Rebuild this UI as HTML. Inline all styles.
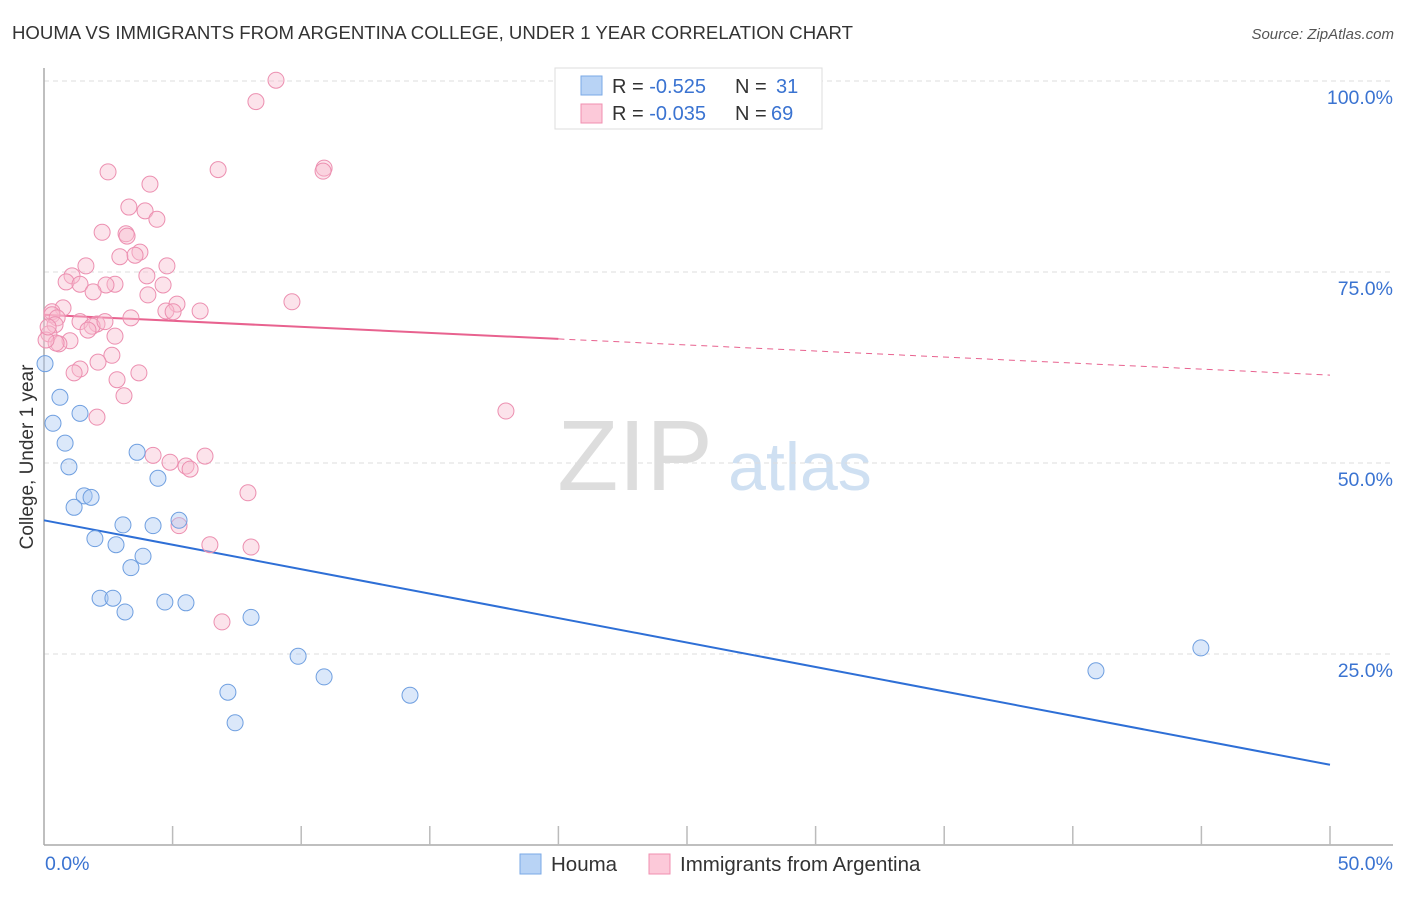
<!DOCTYPE html>
<html><head><meta charset="utf-8"><style>
body{margin:0;background:#fff;font-family:"Liberation Sans",sans-serif;}
svg text{font-family:"Liberation Sans",sans-serif;}
</style></head><body>
<svg id="chart" width="1406" height="892" xmlns="http://www.w3.org/2000/svg">
<text x="12" y="39" font-size="18.6" fill="#333">HOUMA VS IMMIGRANTS FROM ARGENTINA COLLEGE, UNDER 1 YEAR CORRELATION CHART</text>
<text x="1394" y="39" font-size="15" fill="#555" font-style="italic" text-anchor="end">Source: ZipAtlas.com</text>
<text x="33" y="457" font-size="19" fill="#333" text-anchor="middle" transform="rotate(-90 33 457)">College, Under 1 year</text>
<g><text x="635" y="490" font-size="100" fill="#ddd" font-family="Liberation Serif" text-anchor="middle">ZIP</text><text x="800" y="490" font-size="68" fill="#cfe0f2" text-anchor="middle">atlas</text></g>
<g id="grid"></g><g id="axes"></g><g id="lines"></g><g id="pts"></g>
<g>
<rect x="555" y="68" width="267" height="61" fill="#fff" stroke="#ddd"/>
<rect x="581" y="76" width="21" height="19" fill="#b8d3f5" stroke="#7aa8e6"/>
<rect x="581" y="104" width="21" height="19" fill="#fcc9d9" stroke="#f08fb0"/>
<text x="612" y="93" font-size="20" fill="#333">R = <tspan fill="#3a73d1">-0.525</tspan><tspan x="735">N = </tspan><tspan x="776" fill="#3a73d1">31</tspan></text>
<text x="612" y="120" font-size="20" fill="#333">R = <tspan fill="#3a73d1">-0.035</tspan><tspan x="735">N = </tspan><tspan x="771" fill="#3a73d1">69</tspan></text>
</g>
<g>
<rect x="520" y="854" width="21" height="20" fill="#b8d3f5" stroke="#7aa8e6"/>
<text x="551" y="871" font-size="20.5" fill="#333">Houma</text>
<rect x="649" y="854" width="21" height="20" fill="#fcc9d9" stroke="#f08fb0"/>
<text x="680" y="871" font-size="20.5" fill="#333">Immigrants from Argentina</text>
</g>
</svg>
<script>
const houmaX=[0.04,0.35,0.62,1.40,0.82,0.97,3.62,4.43,1.56,1.83,1.17,3.07,4.24,5.25,1.98,2.80,3.85,3.38,2.18,2.68,3.15,4.70,5.52,8.05,9.88,10.89,7.15,7.43,14.23,40.90,44.98];
const houmaY=[63.0,55.2,58.6,56.5,52.6,49.5,51.4,48.0,45.7,45.5,44.2,41.9,41.8,42.5,40.1,39.3,37.8,36.3,32.3,32.3,30.5,31.8,31.7,29.8,24.7,22.0,20.0,16.0,19.6,22.8,25.8];
const argX=[9.02,8.24,10.89,10.85,6.77,2.49,4.12,3.30,3.93,4.39,2.26,3.19,3.23,3.73,2.95,3.54,1.63,4.78,1.09,4.00,0.86,1.40,2.76,2.41,4.63,1.91,4.04,9.64,5.17,0.74,0.31,4.74,6.07,5.02,0.31,0.51,3.38,1.40,2.06,1.87,2.37,0.43,1.71,0.19,2.76,1.01,0.58,0.47,2.64,2.10,1.40,1.17,3.69,2.84,3.11,2.06,17.96,4.24,6.26,4.90,5.52,5.68,7.93,5.25,6.45,8.05,6.92,0.08,0.16];
const argY=[100.1,97.3,88.6,88.2,88.4,88.1,86.5,83.5,83.0,81.9,80.2,80.0,79.7,77.6,77.0,77.2,75.8,75.8,74.5,74.5,73.7,73.4,73.4,73.3,73.3,72.4,72.0,71.1,70.8,70.3,69.8,69.9,69.9,69.8,69.4,69.0,69.0,68.5,68.2,67.9,68.5,68.1,67.4,66.9,66.6,66.0,65.6,65.7,64.1,63.2,62.3,61.8,61.8,60.9,58.8,56.0,56.8,51.0,50.9,50.1,49.6,49.2,46.1,41.8,39.3,39.0,29.2,66.1,67.8];
const yTicks=[25,50,75,100];
const xTickLabels=["0.0%","50.0%"];
const houmaTrend=[42.5,10.5];
const argTrend=[69.4,61.5];
const argSolidEnd=20;
const NS="http://www.w3.org/2000/svg";
const xs=v=>44+v*25.72, ys=v=>845-v*7.64;
function mk(t,a,p){const e=document.createElementNS(NS,t);for(const k in a)e.setAttribute(k,a[k]);document.getElementById(p).appendChild(e);return e;}
yTicks.forEach(t=>{
 const g=mk('line',{x1:44,x2:1393,y1:ys(t),y2:ys(t),stroke:'#ddd','stroke-dasharray':'5,4'},'grid');
 
 
 const l=mk('text',{x:1393,y:ys(t)+23,'font-size':19.5,fill:'#3a73d1','text-anchor':'end'},'grid');
 l.textContent=t.toFixed(1)+'%';
 
 
});
let ax=mk('line',{x1:44,x2:44,y1:68,y2:845,stroke:'#aaa','stroke-width':1.5},'axes');


ax=mk('line',{x1:44,x2:1393,y1:845,y2:845,stroke:'#aaa','stroke-width':1.5},'axes');


for(let i=1;i<=10;i++){const t=mk('line',{x1:xs(i*5),x2:xs(i*5),y1:826,y2:845,stroke:'#bbb','stroke-width':1.5},'axes');
 
 }
[[0,'start'],[50,'end']].forEach((d,i)=>{const t=mk('text',{x:i?1393:45,y:870,'font-size':19.5,fill:'#3a73d1','text-anchor':d[1]},'axes');t.textContent=xTickLabels[i];
 
 });
function pts(X,Y,fill,stroke,name){X.forEach((x,i)=>{const c=mk('circle',{cx:xs(x),cy:ys(Y[i]),r:8,fill:fill,'fill-opacity':0.42,stroke:stroke,'stroke-width':1},'pts');
 
 });}
pts(argX,argY,'#f9bcd0','#ec8fb0','argentina-point');
pts(houmaX,houmaY,'#a9c9f2','#6f9fe0','houma-point');
let ln=mk('line',{x1:xs(0),y1:ys(houmaTrend[0]),x2:xs(50),y2:ys(houmaTrend[1]),stroke:'#2e6fd6','stroke-width':2},'lines');


const am=argTrend[0]+(argTrend[1]-argTrend[0])*argSolidEnd/50;
ln=mk('line',{x1:xs(0),y1:ys(argTrend[0]),x2:xs(argSolidEnd),y2:ys(am),stroke:'#e8628f','stroke-width':2},'lines');


ln=mk('line',{x1:xs(argSolidEnd),y1:ys(am),x2:xs(50),y2:ys(argTrend[1]),stroke:'#e8628f','stroke-width':1,'stroke-dasharray':'6,5'},'lines');


</script>
</body></html>
